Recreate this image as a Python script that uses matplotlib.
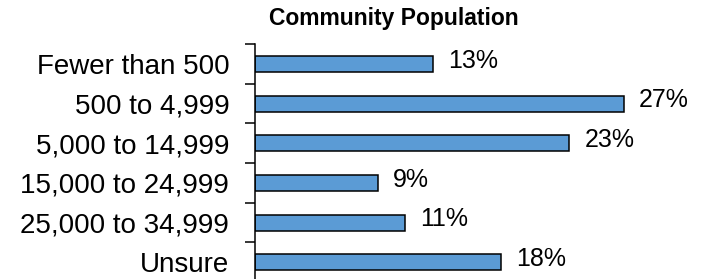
import matplotlib.pyplot as plt
from matplotlib.ticker import FixedLocator, NullLocator

plt.rcParams['font.family'] = ['Liberation Sans', 'DejaVu Sans']

categories = ['Fewer than 500', '500 to 4,999', '5,000 to 14,999',
              '15,000 to 24,999', '25,000 to 34,999', 'Unsure']
values = [13, 27, 23, 9, 11, 18]
labels = ['13%', '27%', '23%', '9%', '11%', '18%']

fig = plt.figure(figsize=(7.03, 2.79), dpi=100)
# axes spans x 255..690 px, y 44..282 px (bottom runs past the image edge)
ax = fig.add_axes([255 / 703, -0.011, 435 / 703, 0.853])

pos = list(range(len(categories)))
ax.barh(pos, values, height=0.4, color='#5B9BD5', edgecolor='black', linewidth=1.1)
ax.set_ylim(len(categories) - 0.5, -0.5)
ax.set_xlim(0, 435 / 13.67)

for p, v, t in zip(pos, values, labels):
    ax.text(v + 1.1, p - 0.08, t, va='center', ha='left', fontsize=18)

ax.yaxis.set_major_locator(FixedLocator(pos))
ax.set_yticklabels(categories, fontsize=20)
ax.tick_params(axis='y', which='major', length=0, pad=18.5)
ax.yaxis.set_minor_locator(FixedLocator([i - 0.5 for i in range(len(categories) + 1)]))
ax.tick_params(axis='y', which='minor', length=7.5, width=1.1, direction='out')

ax.xaxis.set_major_locator(NullLocator())
for s in ['top', 'right', 'bottom']:
    ax.spines[s].set_visible(False)
ax.spines['left'].set_linewidth(1.1)

fig.text(394 / 703, 1 - 19 / 279, 'Community Population', ha='center', va='center',
         fontsize=16.5, fontweight='bold')

fig.savefig('out.png', dpi=100)
